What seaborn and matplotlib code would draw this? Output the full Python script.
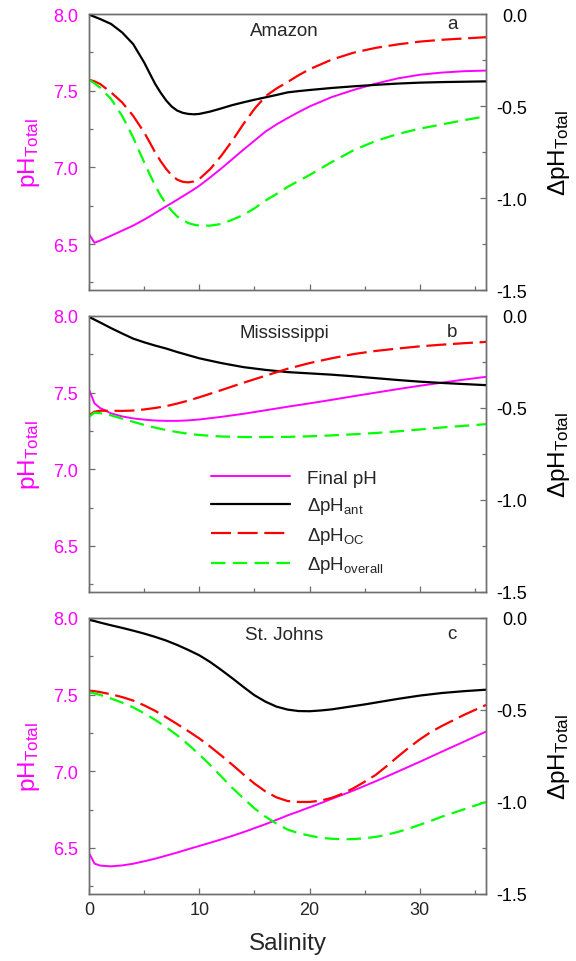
import matplotlib
matplotlib.use('Agg')
import matplotlib.pyplot as plt
import seaborn as sns
from matplotlib.ticker import MultipleLocator

# ---------------- data ----------------
S_a = [0, 0.5, 1, 2, 3, 4, 5, 5.5, 6, 6.5, 7, 7.5, 8, 8.5, 9, 9.5, 10, 11, 12,
       13, 14, 15, 16, 17, 18, 19, 20, 22, 24, 26, 28, 30, 32, 34, 36]
final_a = [6.565, 6.508, 6.522, 6.554, 6.587, 6.62, 6.659, 6.68, 6.702, 6.724,
           6.746, 6.767, 6.789, 6.811, 6.833, 6.856, 6.88, 6.935, 6.993, 7.054,
           7.115, 7.174, 7.233, 7.28, 7.321, 7.36, 7.397, 7.458, 7.505, 7.546,
           7.58, 7.604, 7.618, 7.627, 7.631]
ant_a = [-0.003, -0.015, -0.027, -0.054, -0.1, -0.163, -0.263, -0.322, -0.38,
         -0.428, -0.47, -0.503, -0.525, -0.537, -0.543, -0.545, -0.543, -0.53,
         -0.513, -0.495, -0.48, -0.466, -0.453, -0.44, -0.426, -0.419, -0.413,
         -0.402, -0.393, -0.385, -0.378, -0.373, -0.37, -0.368, -0.366]
oc_a = [-0.357, -0.366, -0.38, -0.426, -0.48, -0.553, -0.643, -0.697, -0.752,
        -0.8, -0.842, -0.877, -0.9, -0.912, -0.915, -0.91, -0.897, -0.842,
        -0.77, -0.688, -0.598, -0.516, -0.447, -0.405, -0.37, -0.333, -0.3,
        -0.248, -0.21, -0.184, -0.165, -0.15, -0.14, -0.133, -0.126]
overall_a = [-0.357, -0.377, -0.4, -0.462, -0.553, -0.67, -0.806, -0.87, -0.933,
             -0.987, -1.033, -1.07, -1.1, -1.12, -1.136, -1.145, -1.15, -1.15,
             -1.141, -1.118, -1.092, -1.056, -1.014, -0.978, -0.94, -0.907,
             -0.875, -0.805, -0.74, -0.69, -0.652, -0.623, -0.6, -0.577, -0.556]

S_b = [0, 0.5, 1, 2, 3, 4, 5, 6, 7, 8, 9, 10, 12, 14, 16, 18, 20, 22, 24, 26,
       28, 30, 32, 34, 36]
final_b = [7.52, 7.43, 7.4, 7.365, 7.345, 7.332, 7.324, 7.318, 7.316, 7.316,
           7.319, 7.325, 7.342, 7.362, 7.385, 7.408, 7.43, 7.453, 7.477, 7.5,
           7.523, 7.545, 7.565, 7.585, 7.603]
ant_b = [-0.005, -0.02, -0.035, -0.066, -0.095, -0.123, -0.143, -0.161, -0.177,
         -0.196, -0.213, -0.23, -0.256, -0.278, -0.293, -0.305, -0.312, -0.319,
         -0.328, -0.338, -0.348, -0.357, -0.364, -0.37, -0.376]
oc_b = [-0.54, -0.52, -0.515, -0.515, -0.516, -0.514, -0.508, -0.5, -0.49,
        -0.476, -0.46, -0.442, -0.403, -0.363, -0.325, -0.287, -0.256, -0.23,
        -0.207, -0.19, -0.177, -0.165, -0.156, -0.148, -0.141]
overall_b = [-0.548, -0.525, -0.528, -0.54, -0.558, -0.575, -0.592, -0.607,
             -0.62, -0.631, -0.64, -0.647, -0.655, -0.658, -0.658, -0.657,
             -0.654, -0.649, -0.643, -0.636, -0.627, -0.617, -0.606, -0.597,
             -0.588]

S_c = [0, 0.5, 1, 2, 3, 4, 5, 6, 7, 8, 9, 10, 11, 12, 13, 14, 15, 16, 17, 18,
       19, 20, 21, 22, 23, 24, 25, 26, 27, 28, 29, 30, 31, 32, 34, 36]
final_c = [6.467, 6.398, 6.385, 6.38, 6.386, 6.397, 6.413, 6.43, 6.45, 6.47,
           6.492, 6.513, 6.534, 6.556, 6.579, 6.603, 6.629, 6.655, 6.683, 6.712,
           6.738, 6.765, 6.792, 6.82, 6.847, 6.875, 6.905, 6.935, 6.966, 6.998,
           7.03, 7.062, 7.095, 7.128, 7.193, 7.259]
ant_c = [-0.01, -0.017, -0.025, -0.04, -0.054, -0.069, -0.085, -0.103, -0.123,
         -0.147, -0.174, -0.203, -0.24, -0.283, -0.328, -0.375, -0.42, -0.455,
         -0.482, -0.498, -0.506, -0.507, -0.503, -0.497, -0.488, -0.479, -0.47,
         -0.46, -0.45, -0.44, -0.431, -0.422, -0.415, -0.408, -0.398, -0.39]
oc_c = [-0.395, -0.398, -0.403, -0.415, -0.43, -0.449, -0.475, -0.505, -0.54,
        -0.577, -0.615, -0.655, -0.7, -0.748, -0.798, -0.85, -0.9, -0.943,
        -0.975, -0.995, -1.0, -1.0, -0.993, -0.978, -0.955, -0.925, -0.89,
        -0.853, -0.805, -0.754, -0.705, -0.66, -0.62, -0.587, -0.527, -0.473]
overall_c = [-0.404, -0.41, -0.418, -0.438, -0.46, -0.486, -0.518, -0.554,
             -0.594, -0.638, -0.688, -0.742, -0.8, -0.862, -0.924, -0.98, -1.035,
             -1.08, -1.118, -1.15, -1.17, -1.183, -1.195, -1.2, -1.203, -1.202,
             -1.197, -1.19, -1.178, -1.163, -1.145, -1.124, -1.103, -1.08,
             -1.04, -1.0]

rivers = ['Amazon', 'Mississippi', 'St. Johns']
panel_letters = ['a', 'b', 'c']
legend_labels = ['Final pH', 'ΔpH$_{\\mathrm{ant}}$', 'ΔpH$_{\\mathrm{OC}}$',
                 'ΔpH$_{\\mathrm{overall}}$']
ph_ticks = [6.5, 7.0, 7.5, 8.0]
ph_labels = ['6.5', '7.0', '7.5', '8.0']
dph_ticks = [-1.5, -1.0, -0.5, 0.0]
dph_labels = ['-1.5', '-1.0', '-0.5', '0.0']
x_ticks = [0, 10, 20, 30]
x_labels = ['0', '10', '20', '30']

# ---------------- style ----------------
sns.set_style('ticks')
plt.rcParams['font.family'] = ['Liberation Sans', 'DejaVu Sans']
plt.rcParams['mathtext.fontset'] = 'custom'
plt.rcParams['mathtext.rm'] = 'Liberation Sans'
plt.rcParams['mathtext.it'] = 'Liberation Sans:italic'
plt.rcParams['mathtext.bf'] = 'Liberation Sans:bold'
plt.rcParams['axes.unicode_minus'] = False

MAG = '#FF00FF'
RED = '#FF0000'
GRN = '#00FF00'
FRAME = '#6e6e6e'
TICK_FS = 13
LAB_FS = 17.5
TXT_FS = 13.5

fig, axes = plt.subplots(3, 1, figsize=(5.76, 9.62), dpi=100, sharex=True)
fig.subplots_adjust(left=0.1545, right=0.8438, top=0.9844, bottom=0.0697,
                    hspace=0.094)

panels = [
    (S_a, final_a, ant_a, oc_a, overall_a),
    (S_b, final_b, ant_b, oc_b, overall_b),
    (S_c, final_c, ant_c, oc_c, overall_c),
]
letter_y = [0.948, 0.926, 0.926]

for i, (ax, (S, fin, ant, oc, ovr)) in enumerate(zip(axes, panels)):
    ax2 = ax.twinx()
    sns.lineplot(x=S, y=fin, ax=ax, color=MAG, lw=1.4)
    sns.lineplot(x=S, y=ant, ax=ax2, color='black', lw=1.6)
    sns.lineplot(x=S, y=oc, ax=ax2, color=RED, lw=1.6, linestyle=(0, (9, 3)))
    sns.lineplot(x=S, y=ovr, ax=ax2, color=GRN, lw=1.6,
                 linestyle=(0, (6.5, 3.3)))

    ax.set_xlim(0, 36)
    ax.set_ylim(6.2, 8.0)
    ax2.set_ylim(-1.5, 0.0)

    ax.set_xticks(x_ticks)
    ax.xaxis.set_minor_locator(MultipleLocator(5))
    ax.set_yticks(ph_ticks)
    ax.set_yticklabels(ph_labels)
    ax.yaxis.set_minor_locator(MultipleLocator(0.25))
    ax2.set_yticks(dph_ticks)
    ax2.set_yticklabels(dph_labels, ha='right')
    ax2.yaxis.set_minor_locator(MultipleLocator(0.25))

    for a in (ax, ax2):
        for sp in a.spines.values():
            sp.set_color(FRAME)
            sp.set_linewidth(1.0)
        a.tick_params(which='both', direction='in', color=FRAME, width=0.9)
        a.tick_params(which='major', length=4)
        a.tick_params(which='minor', length=3)

    ax.tick_params(axis='y', labelcolor=MAG, labelsize=TICK_FS, pad=8)
    ax.tick_params(axis='x', labelsize=TICK_FS, pad=5, top=False)
    ax2.tick_params(axis='y', labelsize=TICK_FS, pad=29.5, labelcolor='black')

    ax.set_ylabel('pH$_{\\mathrm{Total}}$', color=MAG, fontsize=LAB_FS,
                  labelpad=8)
    ax2.set_ylabel('ΔpH$_{\\mathrm{Total}}$', color='black', fontsize=LAB_FS,
                   labelpad=14)

    ax.text(0.4925, 0.925, rivers[i], transform=ax.transAxes, ha='center',
            va='baseline', fontsize=TXT_FS)
    ax.text(0.915, letter_y[i], panel_letters[i], transform=ax.transAxes,
            ha='center', va='baseline', fontsize=TXT_FS)

    if i < 2:
        ax.tick_params(axis='x', labelbottom=False)
        ax.set_xlabel('')
    else:
        ax.set_xticklabels(x_labels)
        ax.set_xlabel('Salinity', fontsize=LAB_FS, labelpad=10)

    if i == 1:
        handles = [ax.lines[0], ax2.lines[0], ax2.lines[1], ax2.lines[2]]
        ax2.legend(handles, legend_labels, loc='upper left',
                   bbox_to_anchor=(0.307, 0.443), frameon=False,
                   fontsize=TXT_FS, handlelength=4.2, handletextpad=0.9,
                   labelspacing=0.45, borderpad=0, borderaxespad=0)

fig.savefig('out.png', dpi=100)
